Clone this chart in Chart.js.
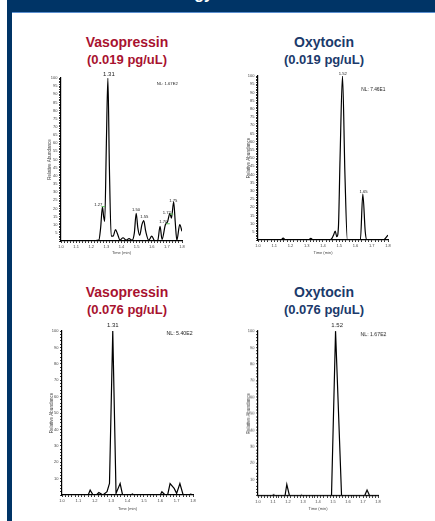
<!DOCTYPE html>
<html>
<head>
<meta charset="utf-8">
<script src="https://cdn.jsdelivr.net/npm/chart.js@4.4.0/dist/chart.umd.min.js"></script>
<style>
  html, body { margin: 0; padding: 0; background: #fff; }
  body { width: 435px; height: 521px; position: relative; overflow: hidden; font-family: "Liberation Sans", Arial, sans-serif; }
  #band { position: absolute; left: 7px; top: 0; width: 428px; height: 12px; background: #003466; overflow: hidden; }
  #band span { position: absolute; right: 222px; top: -15px; color: #fff; font-weight: bold; font-size: 16px; }
  #bandLine { position: absolute; left: 12px; top: 12px; width: 423px; height: 1px; background: #5b8fd0; }
  #bar { position: absolute; left: 7px; top: 0; width: 5px; height: 521px; background: #003466; }
  .ttl { position: absolute; width: 180px; text-align: center; font-weight: bold; line-height: 1; }
  .ttl .a { font-size: 14px; }
  .ttl .b { font-size: 13px; margin-top: 4px; }
  .vaso { color: #a8122f; }
  .oxy { color: #1b3a6b; }
  canvas { position: absolute; }
</style>
</head>
<body>
<div id="band"><span>Methodology</span></div>
<div id="bar"></div>
<div id="bandLine"></div>

<div class="ttl vaso" style="left:37px;top:35px"><div class="a">Vasopressin</div><div class="b">(0.019 pg/uL)</div></div>
<div class="ttl oxy" style="left:234px;top:35px"><div class="a">Oxytocin</div><div class="b">(0.019 pg/uL)</div></div>
<div class="ttl vaso" style="left:37px;top:285px"><div class="a">Vasopressin</div><div class="b">(0.076 pg/uL)</div></div>
<div class="ttl oxy" style="left:234px;top:285px"><div class="a">Oxytocin</div><div class="b">(0.076 pg/uL)</div></div>

<canvas id="c1"></canvas>
<canvas id="c2"></canvas>
<canvas id="c3"></canvas>
<canvas id="c4"></canvas>

<script>
// retention time (min) and relative abundance (%)
const vasoLowTime = [1.00, 1.20, 1.25, 1.262, 1.274, 1.282, 1.289, 1.30, 1.31, 1.32, 1.332, 1.345, 1.36, 1.375, 1.39, 1.41, 1.43, 1.45, 1.47, 1.485, 1.497, 1.508, 1.52, 1.535, 1.547, 1.56, 1.58, 1.60, 1.62, 1.64, 1.655, 1.668, 1.69, 1.705, 1.72, 1.73, 1.745, 1.755, 1.766, 1.785, 1.80];
const vasoLowAbund = [0, 0, 0.5, 8, 21, 15, 12, 60, 100, 45, 3, 3, 7, 4, 0.5, 2, 0.5, 1.5, 0.5, 5, 17, 8, 3.5, 10, 12.5, 6, 0.5, 3, 0, 0.5, 9, 1, 10, 12, 17, 14, 24, 12, 0.5, 10, 6];

const oxyLowTime = [1.00, 1.14, 1.155, 1.17, 1.31, 1.325, 1.34, 1.44, 1.455, 1.465, 1.475, 1.485, 1.495, 1.505, 1.52, 1.535, 1.55, 1.63, 1.645, 1.66, 1.67, 1.77, 1.80];
const oxyLowAbund = [0, 0, 1.2, 0, 0, 1, 0, 0, 1, 3, 5.5, 2, 8, 50, 100, 40, 0, 0, 28, 5, 0, 0, 3];

const vasoHighTime = [1.00, 1.16, 1.172, 1.19, 1.21, 1.225, 1.25, 1.275, 1.29, 1.31, 1.33, 1.355, 1.37, 1.42, 1.43, 1.44, 1.60, 1.61, 1.63, 1.645, 1.66, 1.685, 1.70, 1.72, 1.74, 1.775, 1.785, 1.80];
const vasoHighAbund = [0, 0, 3, 0, 0, 1.5, 0, 2, 7, 100, 1, 7, 0, 0, 0.6, 0, 0, 2, 0, 0, 7, 4, 1, 7, 0, 0, 0.5, 0];

const oxyHighTime = [1.00, 1.09, 1.104, 1.12, 1.18, 1.192, 1.21, 1.28, 1.29, 1.30, 1.49, 1.517, 1.557, 1.71, 1.727, 1.745, 1.80];
const oxyHighAbund = [0, 0, 0.7, 0, 0, 7, 0, 0, 0.5, 0, 0, 100, 0, 0, 3.5, 0, 0];

// peak labels: [time, abundance, text, font size, green mark]
const vasoLowPeaks = [[1.317, 102.5, "1.31", 6], [1.247, 22, "1.27", 4.2, true], [1.496, 19, "1.50", 4.2], [1.551, 15, "1.55", 4.2], [1.676, 11.5, "1.70", 4.2, true], [1.699, 17.4, "1.72", 4.2, true], [1.742, 24.7, "1.75", 4.2]];
const oxyLowPeaks = [[1.522, 101.6, "1.52", 4.2], [1.649, 29.1, "1.65", 4.2]];
const vasoHighPeaks = [[1.31, 103.7, "1.31", 6]];
const oxyHighPeaks = [[1.528, 103.2, "1.52", 6]];

const normLevels = ["NL: 1.67E2", "NL: 7.46E1", "NL: 5.40E2", "NL: 1.67E2"];
const timeTicks = ["1.0", "1.1", "1.2", "1.3", "1.4", "1.5", "1.6", "1.7", "1.8"];

const FONT = '"Liberation Sans", Arial, sans-serif';

const peakLabels = {
  id: "peakLabels",
  afterDatasetsDraw(chart, args, opts) {
    const ctx = chart.ctx;
    const xs = chart.scales.x, ys = chart.scales.y;
    ctx.save();
    ctx.fillStyle = "#222";
    ctx.textAlign = "center";
    ctx.textBaseline = "middle";
    opts.peaks.forEach(p => {
      const px = xs.getPixelForValue(p[0]);
      const py = ys.getPixelForValue(p[1]);
      ctx.font = p[3] + "px " + FONT;
      ctx.fillText(p[2], px, py);
      if (p[4]) {
        const w = ctx.measureText(p[2]).width;
        ctx.strokeStyle = "#5cc05c";
        ctx.lineWidth = 1;
        ctx.beginPath();
        ctx.moveTo(px + w / 2 - 1, py + 1.5);
        ctx.lineTo(px + w / 2 + 2.5, py + 1.5);
        ctx.stroke();
      }
    });
    ctx.font = opts.nlSize + "px " + FONT;
    ctx.fillText(opts.nl, xs.getPixelForValue(opts.nlAt[0]), ys.getPixelForValue(opts.nlAt[1]));
    ctx.restore();
  }
};

function makeChart(id, time, abund, peaks, nl, nlAt, nlSize, area, yStep, yLabelStep, yTitleX, xTitleY, smooth) {
  const left = area.l - 26, top = area.t - 14;
  const width = area.r - left + 14, height = area.b - top + 26;
  const cv = document.getElementById(id);
  cv.style.left = left + "px";
  cv.style.top = top + "px";
  cv.style.width = width + "px";
  cv.style.height = height + "px";
  const points = time.map((t, i) => ({ x: t, y: abund[i] }));
  return new Chart(cv, {
    type: "line",
    data: {
      datasets: [{
        data: points,
        borderColor: "#000",
        borderWidth: 1.2,
        pointRadius: 0,
        fill: false,
        cubicInterpolationMode: smooth ? "monotone" : "default",
        tension: 0
      }]
    },
    options: {
      responsive: false,
      animation: false,
      devicePixelRatio: 1,
      layout: { padding: { left: 0, top: area.t - top, right: left + width - area.r, bottom: 0 } },
      plugins: {
        legend: { display: false },
        tooltip: { enabled: false },
        peakLabels: { peaks: peaks, nl: nl, nlAt: nlAt, nlSize: nlSize }
      },
      scales: {
        x: {
          type: "linear",
          min: 1.0,
          max: 1.8,
          border: { color: "#000", width: 1.2 },
          grid: { drawOnChartArea: false, tickLength: 2, tickColor: "#000", tickWidth: 0.8 },
          ticks: {
            stepSize: 0.02,
            autoSkip: false,
            maxRotation: 0,
            padding: 1,
            color: "#444",
            font: { size: 4, family: FONT },
            callback: (v) => {
              const k = Math.round((v - 1) * 10);
              return Math.abs((v - 1) * 10 - k) < 1e-6 ? timeTicks[k] : "";
            }
          },
          title: {
            display: true,
            text: "Time (min)",
            color: "#444",
            font: { size: 4, family: FONT },
            padding: { top: 0, bottom: top + height - xTitleY - 2.4 }
          },
          afterFit: (s) => { s.height = top + height - area.b; }
        },
        y: {
          type: "linear",
          min: 0,
          max: 100,
          border: { color: "#000", width: 1.2 },
          grid: { drawOnChartArea: false, tickLength: 2, tickColor: "#000", tickWidth: 0.8 },
          ticks: {
            stepSize: yStep,
            autoSkip: false,
            padding: 1.5,
            color: "#444",
            font: { size: 4, family: FONT },
            callback: (v) => (v > 0 && v % yLabelStep === 0 ? String(v) : "")
          },
          title: {
            display: true,
            text: "Relative Abundance",
            color: "#444",
            font: { size: 4.5, family: FONT },
            padding: { top: yTitleX - left - 2.7, bottom: 0 }
          },
          afterFit: (s) => { s.width = area.l - left; }
        }
      }
    },
    plugins: [peakLabels]
  });
}

makeChart("c1", vasoLowTime, vasoLowAbund, vasoLowPeaks, normLevels[0], [1.703, 96.7], 4.2,
  { l: 61, t: 78, r: 182, b: 241 }, 1, 5, 49.5, 252.5, true);
makeChart("c2", oxyLowTime, oxyLowAbund, oxyLowPeaks, normLevels[1], [1.71, 91.9], 4.8,
  { l: 257.5, t: 76, r: 388, b: 240 }, 1, 5, 248.3, 252.7, true);
makeChart("c3", vasoHighTime, vasoHighAbund, vasoHighPeaks, normLevels[2], [1.718, 98.6], 5.2,
  { l: 62, t: 331, r: 193, b: 495 }, 2, 10, 51.7, 508.5, false);
makeChart("c4", oxyHighTime, oxyHighAbund, oxyHighPeaks, normLevels[3], [1.77, 97.7], 5.2,
  { l: 257.7, t: 331, r: 378.3, b: 495.7 }, 2, 10, 248.3, 509, false);
</script>
</body>
</html>
